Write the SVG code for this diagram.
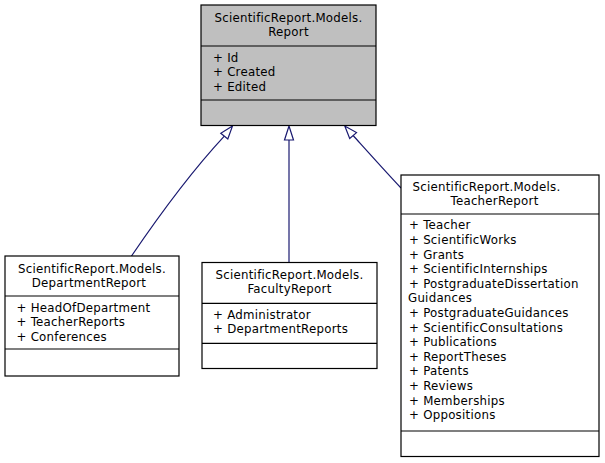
<svg xmlns="http://www.w3.org/2000/svg" width="605" height="463" viewBox="0 0 605 463">
<style>
  .box { fill: #ffffff; stroke: #000000; stroke-width: 1.2; }
  .main { fill: #bfbfbf; }
  .sep { stroke: #000000; stroke-width: 1.2; }
  text { font-family: "DejaVu Sans", "Liberation Sans", sans-serif; font-size: 11.8px; letter-spacing: 0.25px; fill: #000000; }
  .c { text-anchor: middle; }
  .edge { fill: none; stroke: #191970; stroke-width: 1.2; }
  .head { fill: #ffffff; stroke: #191970; stroke-width: 1.2; }
</style>
<rect width="605" height="463" fill="#ffffff"/>
<g id="connectors">
  <path class="edge" d="M224.3,136.1 C190,173 156,220 131.5,256"/>
  <polygon class="head" points="232.5,126 220.8,133.3 227.8,138.9"/>
  <path class="edge" d="M289,140 L289,263"/>
  <polygon class="head" points="289,126 284.5,140 293.5,140"/>
  <path class="edge" d="M353.1,135.5 C368,152 385,171 401,188"/>
  <polygon class="head" points="344.8,126 349.7,138.4 356.5,132.6"/>
</g>
<g id="Report">
  <rect class="box main" x="201" y="5" width="175" height="120.5"/>
  <line class="sep" x1="201" y1="46" x2="376" y2="46"/>
  <line class="sep" x1="201" y1="100" x2="376" y2="100"/>
  <text class="c" x="288.5" y="22">ScientificReport.Models.</text>
  <text class="c" x="288.5" y="36">Report</text>
  <text x="213" y="62">+ Id</text>
  <text x="213" y="76.3">+ Created</text>
  <text x="213" y="90.6">+ Edited</text>
</g>
<g id="DepartmentReport">
  <rect class="box" x="5" y="256" width="174" height="120"/>
  <line class="sep" x1="5" y1="296" x2="179" y2="296"/>
  <line class="sep" x1="5" y1="349" x2="179" y2="349"/>
  <text class="c" x="92" y="273">ScientificReport.Models.</text>
  <text class="c" x="89" y="287">DepartmentReport</text>
  <text x="16.5" y="312">+ HeadOfDepartment</text>
  <text x="16.5" y="326.3">+ TeacherReports</text>
  <text x="16.5" y="340.6">+ Conferences</text>
</g>
<g id="FacultyReport">
  <rect class="box" x="202" y="262.5" width="175" height="106"/>
  <line class="sep" x1="202" y1="303.3" x2="377" y2="303.3"/>
  <line class="sep" x1="202" y1="343.3" x2="377" y2="343.3"/>
  <text class="c" x="289.5" y="279">ScientificReport.Models.</text>
  <text class="c" x="289.5" y="293">FacultyReport</text>
  <text x="213" y="318.5">+ Administrator</text>
  <text x="213" y="333">+ DepartmentReports</text>
</g>
<g id="TeacherReport">
  <rect class="box" x="401" y="175" width="198" height="281.5"/>
  <line class="sep" x1="401" y1="214" x2="599" y2="214"/>
  <line class="sep" x1="401" y1="431" x2="599" y2="431"/>
  <text class="c" x="486.5" y="191">ScientificReport.Models.</text>
  <text class="c" x="494.5" y="205">TeacherReport</text>
  <text x="409" y="229.3">+ Teacher</text>
  <text x="409" y="243.9">+ ScientificWorks</text>
  <text x="409" y="258.5">+ Grants</text>
  <text x="409" y="273.1">+ ScientificInternships</text>
  <text x="409" y="287.7">+ PostgraduateDissertation</text>
  <text x="408" y="302.3">Guidances</text>
  <text x="409" y="316.9">+ PostgraduateGuidances</text>
  <text x="409" y="331.5">+ ScientificConsultations</text>
  <text x="409" y="346.1">+ Publications</text>
  <text x="409" y="360.7">+ ReportTheses</text>
  <text x="409" y="375.3">+ Patents</text>
  <text x="409" y="389.9">+ Reviews</text>
  <text x="409" y="404.5">+ Memberships</text>
  <text x="409" y="419.1">+ Oppositions</text>
</g>
</svg>
